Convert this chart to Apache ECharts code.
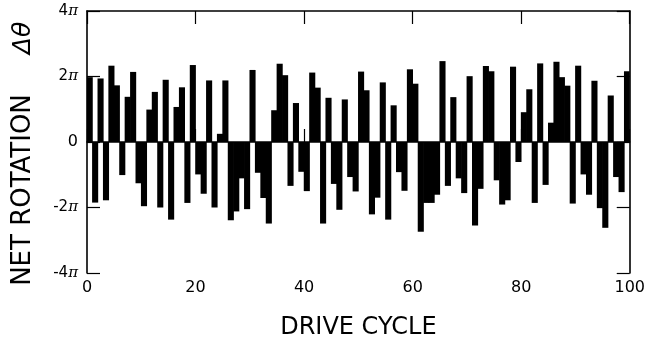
<!DOCTYPE html>
<html>
<head>
<meta charset="utf-8">
<script src="https://cdn.jsdelivr.net/npm/echarts@6/dist/echarts.min.js"></script>
<style>
html,body{margin:0;padding:0;background:#fff;}
#chart{width:648px;height:345px;}
</style>
</head>
<body>
<div id="chart"></div>
<script>
// Drive cycles 1..100
const cycles = Array.from({length: 100}, (_, i) => String(i + 1));
// Net rotation per drive cycle, in units of pi
const netRotation = [
  1.98, -1.85, 1.94, -1.78, 2.33, 1.73, -1.01, 1.38, 2.14, -1.26,
  -1.96, 0.99, 1.53, -2.00, 1.90, -2.37, 1.07, 1.67, -1.86, 2.35,
  -0.99, -1.58, 1.88, -2.00, 0.25, 1.88, -2.39, -2.12, -1.11, -2.05,
  2.20, -0.94, -1.71, -2.49, 0.97, 2.39, 2.04, -1.34, 1.19, -0.91,
  -1.50, 2.12, 1.66, -2.49, 1.35, -1.28, -2.07, 1.30, -1.07, -1.51,
  2.15, 1.58, -2.21, -1.70, 1.82, -2.37, 1.12, -0.92, -1.49, 2.22,
  1.78, -2.74, -1.86, -1.86, -1.61, 2.47, -1.34, 1.37, -1.11, -1.56,
  2.01, -2.55, -1.43, 2.32, 2.16, -1.17, -1.91, -1.78, 2.30, -0.61,
  0.91, 1.61, -1.86, 2.40, -1.31, 0.59, 2.45, 1.98, 1.72, -1.88,
  2.33, -0.99, -1.61, 1.87, -2.02, -2.62, 1.42, -1.07, -1.53, 2.16
];
// Axis ticks
const xTicks = [0, 20, 40, 60, 80, 100];
const yTicksPi = [-4, -2, 0, 2, 4];
const xTitle = 'DRIVE CYCLE';
const yTitle = 'NET ROTATION';
const yTitleSym = 'Δθ';

const chart = echarts.init(document.getElementById('chart'), null, {renderer: 'canvas'});
const lineStyle = {color: '#000', width: 1.6};
const fontFam = 'DejaVu Sans';

const yLabelFmt = v => v === 0 ? '{z|0}' : '{n|' + v + '}{p|π}';
const yRich = {
  n: {fontFamily: fontFam, fontSize: 15, color: '#000'},
  z: {fontFamily: fontFam, fontSize: 16, color: '#000'},
  p: {fontFamily: 'DejaVu Serif', fontStyle: 'italic', fontSize: 15, color: '#000'}
};

chart.setOption({
  animation: false,
  backgroundColor: '#fff',
  grid: {left: 87, right: 12, top: 11, bottom: 63, containLabel: false},
  xAxis: [
    {type: 'category', data: cycles, show: false, position: 'bottom', boundaryGap: true},
    {type: 'value', position: 'bottom', min: xTicks[0], max: xTicks[xTicks.length - 1], interval: 20,
     name: xTitle, nameLocation: 'middle', nameGap: 43,
     nameTextStyle: {fontFamily: fontFam, fontSize: 24, color: '#000'},
     axisLine: {show: true, lineStyle: lineStyle},
     axisTick: {show: true, inside: true, length: 13, lineStyle: {color: '#000', width: 1.2}},
     axisLabel: {fontFamily: fontFam, fontSize: 16, color: '#000', margin: 7},
     splitLine: {show: false}},
    {type: 'value', position: 'top', min: 0, max: 100, interval: 20,
     axisLine: {show: true, lineStyle: lineStyle},
     axisTick: {show: true, inside: true, length: 13, lineStyle: {color: '#000', width: 1.2}},
     axisLabel: {show: false}, splitLine: {show: false}}
  ],
  yAxis: [
    {type: 'value', position: 'left', min: yTicksPi[0], max: yTicksPi[yTicksPi.length - 1], interval: 2,
     axisLine: {show: true, onZero: false, lineStyle: lineStyle},
     axisTick: {show: true, inside: true, length: 13, lineStyle: {color: '#000', width: 1.2}},
     axisLabel: {formatter: yLabelFmt, rich: yRich, margin: 9},
     splitLine: {show: false}},
    {type: 'value', position: 'right', min: -4, max: 4, interval: 2,
     axisLine: {show: true, onZero: false, lineStyle: lineStyle},
     axisTick: {show: true, inside: true, length: 13, lineStyle: {color: '#000', width: 1.2}},
     axisLabel: {show: false}, splitLine: {show: false}}
  ],
  graphic: [
    {type: 'text', x: 23, y: 190, rotation: Math.PI / 2,
     style: {text: yTitle, fontFamily: fontFam, fontSize: 26, fill: '#000', align: 'center', verticalAlign: 'middle'}},
    {type: 'text', x: 23, y: 38, rotation: Math.PI / 2,
     style: {text: yTitleSym, fontFamily: fontFam, fontStyle: 'italic', fontSize: 25, fill: '#000', align: 'center', verticalAlign: 'middle'}}
  ],
  series: [{
    type: 'bar', xAxisIndex: 0, yAxisIndex: 0,
    data: netRotation,
    barWidth: 6.1,
    itemStyle: {color: '#000'},
    emphasis: {disabled: true}
  }]
});
</script>
</body>
</html>
